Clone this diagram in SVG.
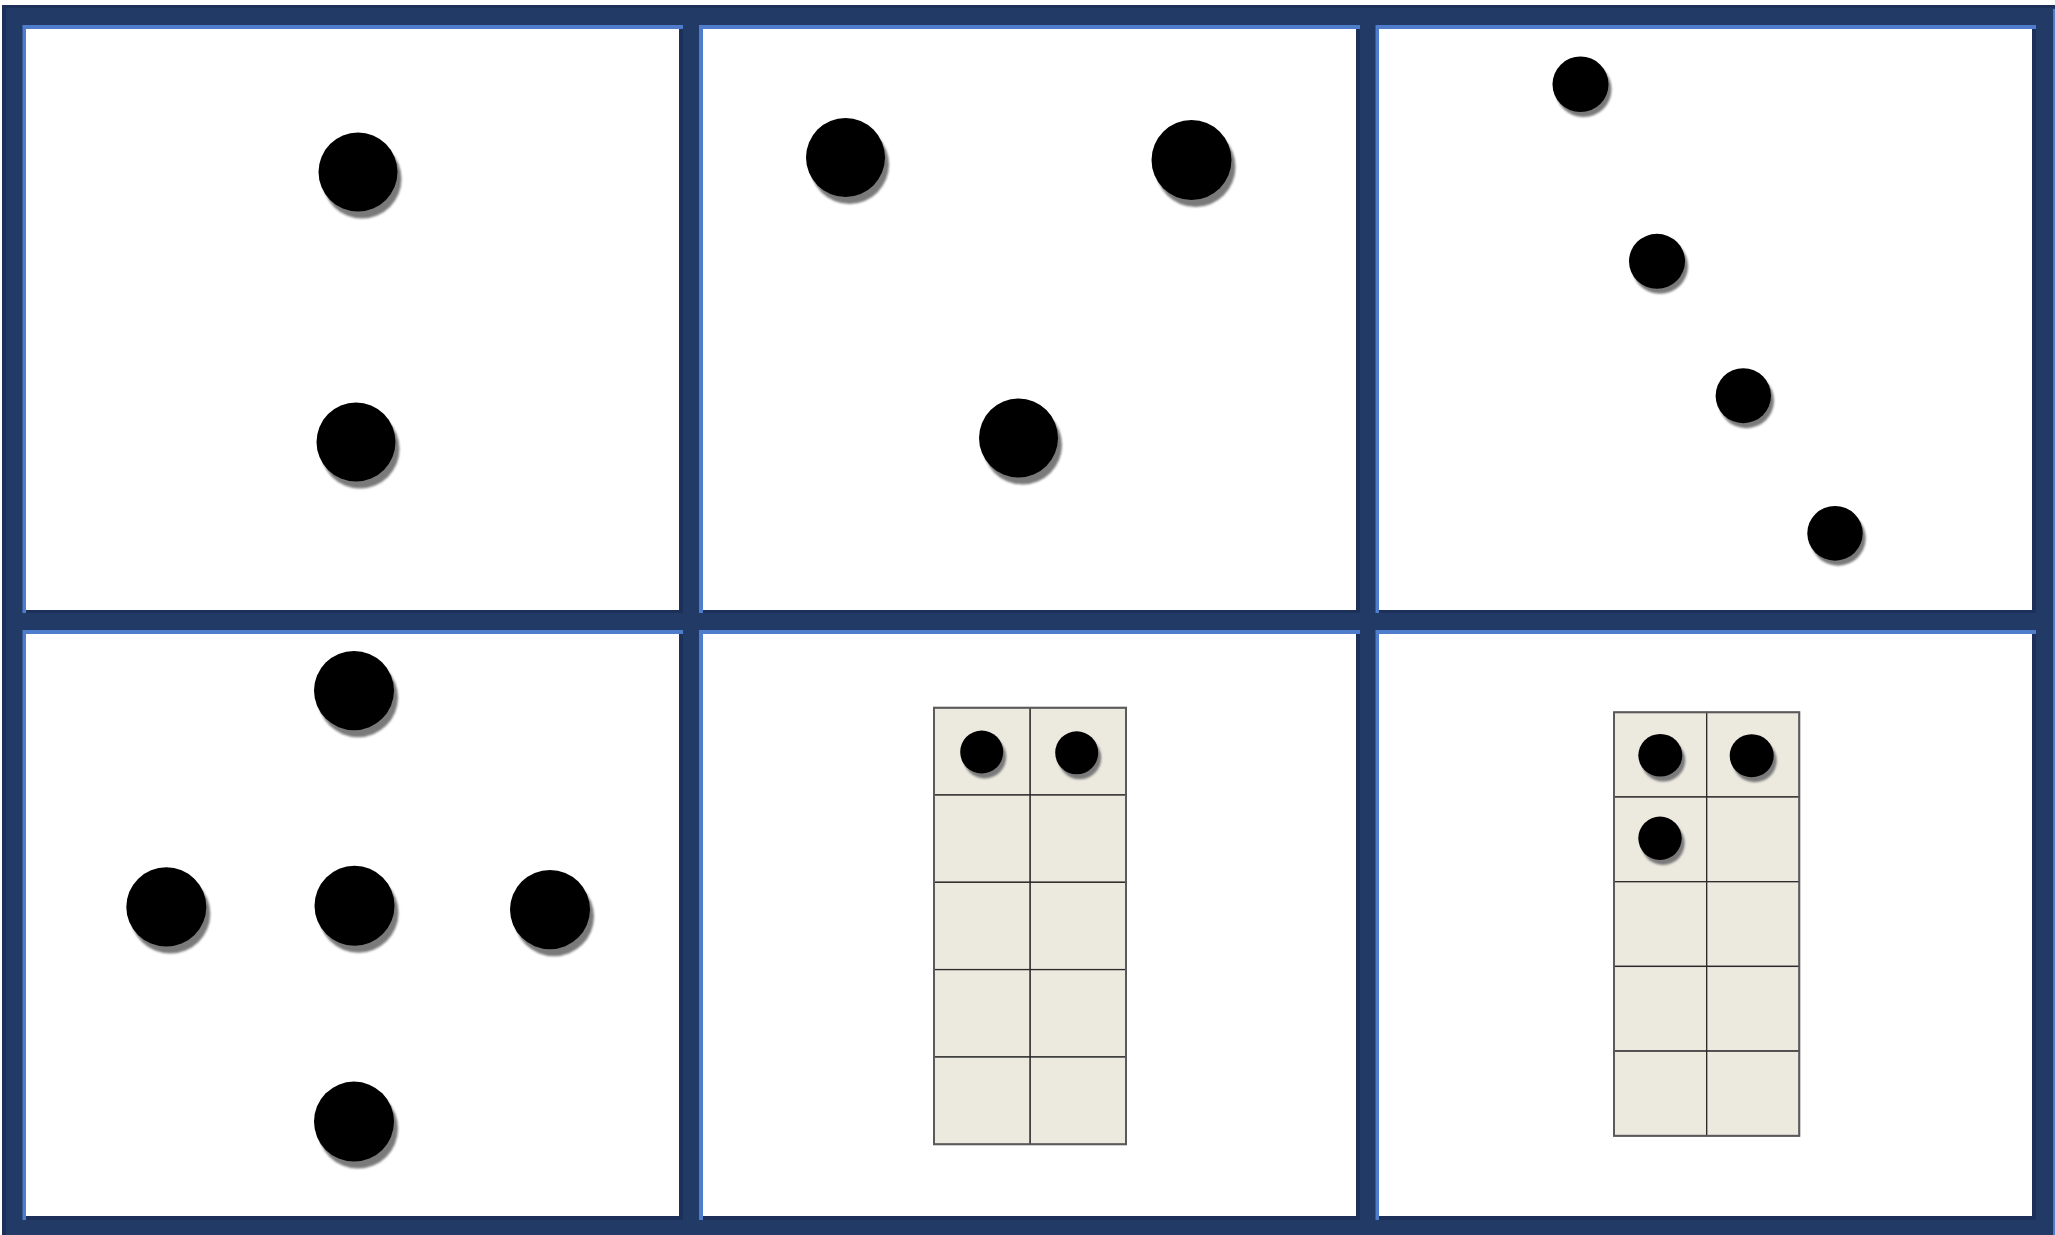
<svg xmlns="http://www.w3.org/2000/svg" width="2055" height="1235" viewBox="0 0 2055 1235">
<style>
.blue{fill:#4f7ccb}
.dark{fill:#1c3059}
.paper{fill:#ffffff}
.dot{fill:#000000}
.sh{fill:#7a7a7a;filter:url(#blur)}
.cell{fill:#ecE9df;stroke:#2a2a2a;stroke-width:1.3}
.frame{fill:none;stroke:#5a5a5a;stroke-width:2}
</style>
<defs>
<filter id="blur" x="-20%" y="-20%" width="140%" height="140%"><feGaussianBlur stdDeviation="1"/></filter>
</defs>
<rect width="2055" height="1235" fill="#ffffff"/>
<rect x="2" y="5" width="2053" height="1230" fill="#213a66"/>
<rect x="2" y="5" width="2053" height="3" class="dark"/>
<rect x="2" y="5" width="4" height="1230" class="dark"/>
<rect x="2053" y="9" width="2" height="1226" class="blue"/>

<g id="panel1">
<rect x="22.5" y="25" width="660.5" height="588" class="blue"/>
<rect x="26" y="29" width="657" height="584" class="dark"/>
<rect x="26" y="29" width="653" height="581" class="paper"/>
<circle cx="362" cy="179" r="39.5" class="sh"/><circle cx="358" cy="172" r="39.5" class="dot"/>
<circle cx="360" cy="449" r="39.5" class="sh"/><circle cx="356" cy="442" r="39.5" class="dot"/>
</g>
<g id="panel2">
<rect x="699" y="25" width="661" height="588" class="blue"/>
<rect x="703" y="29" width="657" height="584" class="dark"/>
<rect x="703" y="29" width="653" height="581" class="paper"/>
<circle cx="849.5" cy="164.5" r="39.5" class="sh"/><circle cx="845.5" cy="157.5" r="39.5" class="dot"/>
<circle cx="1195.5" cy="167" r="40" class="sh"/><circle cx="1191.5" cy="160" r="40" class="dot"/>
<circle cx="1022.5" cy="445" r="39.5" class="sh"/><circle cx="1018.5" cy="438" r="39.5" class="dot"/>
</g>
<g id="panel3">
<rect x="1375.5" y="25" width="660.5" height="588" class="blue"/>
<rect x="1379" y="29" width="657" height="584" class="dark"/>
<rect x="1379" y="29" width="653" height="581" class="paper"/>
<ellipse cx="1583.5" cy="89.3" rx="28" ry="27.8" class="sh"/><ellipse cx="1580.5" cy="84.3" rx="28" ry="27.8" class="dot"/>
<ellipse cx="1660" cy="266.3" rx="28" ry="27.5" class="sh"/><ellipse cx="1657" cy="261.3" rx="28" ry="27.5" class="dot"/>
<ellipse cx="1746.3" cy="400.7" rx="27.7" ry="27.5" class="sh"/><ellipse cx="1743.3" cy="395.7" rx="27.7" ry="27.5" class="dot"/>
<ellipse cx="1838" cy="538.3" rx="27.7" ry="27.4" class="sh"/><ellipse cx="1835" cy="533.3" rx="27.7" ry="27.4" class="dot"/>
</g>
<g id="panel4">
<rect x="22.5" y="630" width="660.5" height="590" class="blue"/>
<rect x="26" y="634" width="657" height="586" class="dark"/>
<rect x="26" y="634" width="653" height="582" class="paper"/>
<ellipse cx="358" cy="697.6" rx="40" ry="39.6" class="sh"/><ellipse cx="354" cy="690.6" rx="40" ry="39.6" class="dot"/>
<ellipse cx="170.3" cy="913.9" rx="40" ry="39.6" class="sh"/><ellipse cx="166.3" cy="906.9" rx="40" ry="39.6" class="dot"/>
<ellipse cx="358.5" cy="912.7" rx="40" ry="40" class="sh"/><ellipse cx="354.5" cy="905.7" rx="40" ry="40" class="dot"/>
<ellipse cx="554" cy="916.6" rx="40" ry="39.6" class="sh"/><ellipse cx="550" cy="909.6" rx="40" ry="39.6" class="dot"/>
<ellipse cx="358" cy="1128.6" rx="40" ry="40" class="sh"/><ellipse cx="354" cy="1121.6" rx="40" ry="40" class="dot"/>
</g>
<g id="panel5">
<rect x="699" y="630" width="661" height="590" class="blue"/>
<rect x="703" y="634" width="657" height="586" class="dark"/>
<rect x="703" y="634" width="653" height="582" class="paper"/>
<g id="frame5">
<rect x="934" y="707.7" width="96.2" height="87.3" class="cell"/><rect x="1030.2" y="707.7" width="95.8" height="87.3" class="cell"/>
<rect x="934" y="795" width="96.2" height="87.3" class="cell"/><rect x="1030.2" y="795" width="95.8" height="87.3" class="cell"/>
<rect x="934" y="882.3" width="96.2" height="87.3" class="cell"/><rect x="1030.2" y="882.3" width="95.8" height="87.3" class="cell"/>
<rect x="934" y="969.6" width="96.2" height="87.4" class="cell"/><rect x="1030.2" y="969.6" width="95.8" height="87.4" class="cell"/>
<rect x="934" y="1057" width="96.2" height="87.3" class="cell"/><rect x="1030.2" y="1057" width="95.8" height="87.3" class="cell"/>
<rect x="934" y="707.7" width="192" height="436.6" class="frame"/>
</g>
<circle cx="984.7" cy="757" r="21.5" class="sh"/><circle cx="981.7" cy="752" r="21.5" class="dot"/>
<circle cx="1079.7" cy="757.8" r="21.5" class="sh"/><circle cx="1076.7" cy="752.8" r="21.5" class="dot"/>
</g>
<g id="panel6">
<rect x="1375.5" y="630" width="660.5" height="590" class="blue"/>
<rect x="1379" y="634" width="657" height="586" class="dark"/>
<rect x="1379" y="634" width="653" height="582" class="paper"/>
<g id="frame6">
<rect x="1614" y="712.3" width="92.7" height="84.7" class="cell"/><rect x="1706.7" y="712.3" width="92.6" height="84.7" class="cell"/>
<rect x="1614" y="797" width="92.7" height="84.7" class="cell"/><rect x="1706.7" y="797" width="92.6" height="84.7" class="cell"/>
<rect x="1614" y="881.7" width="92.7" height="84.7" class="cell"/><rect x="1706.7" y="881.7" width="92.6" height="84.7" class="cell"/>
<rect x="1614" y="966.4" width="92.7" height="84.7" class="cell"/><rect x="1706.7" y="966.4" width="92.6" height="84.7" class="cell"/>
<rect x="1614" y="1051.1" width="92.7" height="84.7" class="cell"/><rect x="1706.7" y="1051.1" width="92.6" height="84.7" class="cell"/>
<rect x="1614" y="712.3" width="185.3" height="423.5" class="frame"/>
</g>
<ellipse cx="1663.3" cy="760.3" rx="22" ry="21.3" class="sh"/><ellipse cx="1660.3" cy="755.3" rx="22" ry="21.3" class="dot"/>
<ellipse cx="1754.7" cy="760.7" rx="22" ry="21.5" class="sh"/><ellipse cx="1751.7" cy="755.7" rx="22" ry="21.5" class="dot"/>
<ellipse cx="1663" cy="843.3" rx="21.7" ry="21.7" class="sh"/><ellipse cx="1660" cy="838.3" rx="21.7" ry="21.7" class="dot"/>
</g>
<g id="connectors"/>
</svg>
